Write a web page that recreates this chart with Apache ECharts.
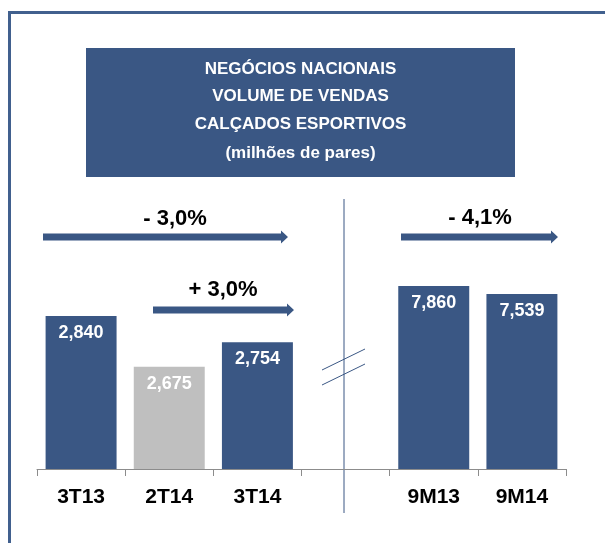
<!DOCTYPE html>
<html>
<head>
<meta charset="utf-8">
<script src="https://cdn.jsdelivr.net/npm/echarts@6/dist/echarts.min.js"></script>
<style>
  html, body { margin: 0; padding: 0; background: #fff; }
  #chart { width: 605px; height: 543px; }
</style>
</head>
<body>
<div id="chart"></div>
<script>
// categories (empty slot = axis break)
const categories = ['3T13', '2T14', '3T14', '', '9M13', '9M14']
// quarterly volumes (left scale)
const quarterValues = [2.840, 2.675, 2.754, null, null, null]
// nine-month volumes (right scale, broken axis)
const ytdValues = [null, null, null, null, 7.860, 7.539]
const titleLines = ['NEGÓCIOS NACIONAIS', 'VOLUME DE VENDAS', 'CALÇADOS ESPORTIVOS', '(milhões de pares)']
const changeLabels = ['- 3,0%', '+ 3,0%', '- 4,1%']

const blue = '#3A5784'
const gray = '#BFBFBF'
const font = '"Liberation Sans", Arial, sans-serif'

const fmt = v => v.toFixed(3).replace('.', ',')

const chart = echarts.init(document.getElementById('chart'))

// seta: haste + ponta pequena
const arrow = (x1, x2, y) => ({
  type: 'polygon',
  shape: {
    points: [
      [x1, y - 3.5], [x2 - 7, y - 3.5], [x2 - 7, y - 6.5], [x2, y],
      [x2 - 7, y + 6.5], [x2 - 7, y + 3.5], [x1, y + 3.5]
    ]
  },
  style: { fill: blue }
})

const bigText = (x, y, text) => ({
  type: 'text',
  x: x, y: y,
  style: {
    text: text, fill: '#000', font: 'bold 22px ' + font,
    textAlign: 'center', textVerticalAlign: 'middle'
  }
})

const valueLabel = {
  show: true, position: 'insideTop', distance: 8,
  color: '#fff', fontWeight: 'bold', fontSize: 18, fontFamily: font,
  formatter: p => fmt(p.value)
}

chart.setOption({
  animation: false,
  grid: { left: 37, right: 39, top: 200, bottom: 74 },
  xAxis: {
    type: 'category',
    data: categories,
    axisLine: { lineStyle: { color: '#8C8C8C', width: 1 } },
    axisTick: { show: true, length: 7, lineStyle: { color: '#8C8C8C' } },
    axisLabel: { color: '#000', fontWeight: 'bold', fontSize: 21, fontFamily: font, margin: 18 }
  },
  yAxis: [
    { type: 'value', min: 2.342, max: 3.217, show: false, splitLine: { show: false } },
    { type: 'value', min: 0.517, max: 11.317, show: false, splitLine: { show: false } }
  ],
  series: [
    {
      type: 'bar',
      yAxisIndex: 0,
      barCategoryGap: '19.5%',
      barGap: '-100%',
      data: quarterValues.map((v, i) => v == null ? null : {
        value: v,
        itemStyle: { color: i === 1 ? gray : blue }
      }),
      label: valueLabel
    },
    {
      type: 'bar',
      yAxisIndex: 1,
      barCategoryGap: '19.5%',
      barGap: '-100%',
      itemStyle: { color: blue },
      data: ytdValues,
      label: valueLabel
    }
  ],
  graphic: [
    // moldura
    {
      type: 'rect',
      shape: { x: 9.5, y: 12.5, width: 700, height: 700 },
      style: { fill: 'none', stroke: '#41608E', lineWidth: 3 }
    },
    // caixa do título
    {
      type: 'rect',
      shape: { x: 86, y: 48, width: 429, height: 129 },
      style: { fill: blue }
    },
    ...titleLines.map((t, i) => ({
      type: 'text',
      x: 300.5, y: [69.5, 96.5, 124.5, 153.5][i],
      style: {
        text: t, fill: '#fff', font: 'bold 17px ' + font,
        textAlign: 'center', textVerticalAlign: 'middle'
      }
    })),
    // divisor
    {
      type: 'line',
      shape: { x1: 344, y1: 199, x2: 344, y2: 513 },
      style: { stroke: blue, lineWidth: 1 }
    },
    // marcas de quebra
    {
      type: 'line',
      shape: { x1: 322, y1: 370, x2: 365, y2: 349 },
      style: { stroke: blue, lineWidth: 1 }
    },
    {
      type: 'line',
      shape: { x1: 322, y1: 385, x2: 365, y2: 364 },
      style: { stroke: blue, lineWidth: 1 }
    },
    // setas de variação
    arrow(43, 288, 237),
    arrow(153, 294, 310),
    arrow(401, 558, 237),
    bigText(175, 219, changeLabels[0]),
    bigText(223, 290, changeLabels[1]),
    bigText(480, 218, changeLabels[2])
  ]
})
</script>
</body>
</html>
